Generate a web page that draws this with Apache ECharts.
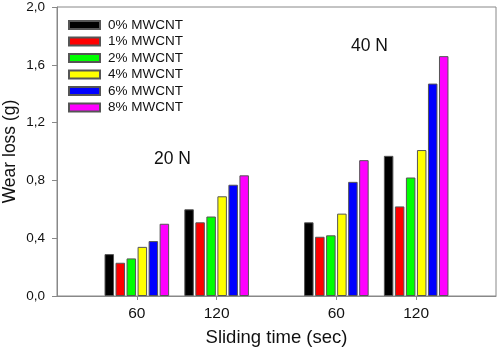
<!DOCTYPE html>
<html>
<head>
<meta charset="utf-8">
<script src="https://cdn.jsdelivr.net/npm/echarts@6/dist/echarts.min.js"></script>
<style>
  html, body { margin: 0; padding: 0; background: #fff; }
  #chart { width: 498px; height: 350px; }
</style>
</head>
<body>
<div id="chart"></div>
<script>
  // data
  const loads = ['20 N', '40 N']
  const times = ['60', '120']
  const seriesNames = ['0% MWCNT', '1% MWCNT', '2% MWCNT', '4% MWCNT', '6% MWCNT', '8% MWCNT']
  const colors = ['#000000', '#ff0000', '#00ff00', '#ffff00', '#0000ff', '#ff00ff']
  // one row per series: 20N-60, 20N-120, 40N-60, 40N-120
  const wear0 = [0.29, 0.60, 0.51, 0.97]
  const wear1 = [0.23, 0.51, 0.41, 0.62]
  const wear2 = [0.26, 0.55, 0.42, 0.82]
  const wear4 = [0.34, 0.69, 0.57, 1.01]
  const wear6 = [0.38, 0.77, 0.79, 1.47]
  const wear8 = [0.50, 0.835, 0.94, 1.66]
  const yTicks = [0, 0.4, 0.8, 1.2, 1.6, 2.0]

  const allWear = [wear0, wear1, wear2, wear4, wear6, wear8]

  // slot on the x scale: 2 slots between times, an extra gap between loads
  const slots = []
  const slotLabels = []
  loads.forEach((l, li) => {
    times.forEach((t, ti) => {
      slots.push(2 + li * 5 + ti * 2)
      slotLabels.push(t)
    })
  })

  const chart = echarts.init(document.getElementById('chart'))
  const font = 'Liberation Sans, Arial, sans-serif'

  const series = allWear.map((vals, i) => ({
    name: seriesNames[i],
    type: 'bar',
    barWidth: 9.5,
    barGap: '16%',
    itemStyle: { color: colors[i], borderColor: '#555', borderWidth: 1 },
    data: vals.map((v, k) => [slots[k], v])
  }))

  chart.setOption({
    animation: false,
    textStyle: { fontFamily: font },
    grid: {
      left: 57, right: 2, top: 7, bottom: 54,
      outerBoundsMode: 'none', containLabel: false,
      show: true, borderColor: '#888', borderWidth: 1
    },
    legend: {
      orient: 'vertical',
      left: 63, top: 13,
      itemWidth: 31, itemHeight: 8, itemGap: 2.5,
      icon: 'rect',
      data: seriesNames,
      textStyle: { fontSize: 13.5, color: '#111', fontFamily: font, padding: [0, 0, 0, 3] }
    },
    xAxis: {
      type: 'value', min: 0, max: 11,
      splitLine: { show: false },
      axisLine: { lineStyle: { color: '#888' } },
      axisTick: { show: true, length: 4, lineStyle: { color: '#888' }, customValues: slots },
      axisLabel: {
        customValues: slots, margin: 10, fontSize: 15.5, color: '#111',
        formatter: v => slotLabels[slots.indexOf(v)]
      },
      name: 'Sliding time (sec)', nameLocation: 'middle', nameGap: 32, nameMoveOverlap: false,
      nameTextStyle: { fontSize: 18.5, color: '#111' }
    },
    yAxis: {
      type: 'value', min: 0, max: 2, interval: 0.4,
      splitLine: { show: false },
      axisLine: { show: true, lineStyle: { color: '#888' } },
      axisTick: { show: true, length: 5, lineStyle: { color: '#888' } },
      axisLabel: {
        margin: 12, fontSize: 13.5, color: '#111',
        formatter: v => yTicks.includes(+v.toFixed(1)) ? v.toFixed(1).replace('.', ',') : ''
      },
      name: 'Wear loss (g)', nameLocation: 'middle', nameGap: 38, nameMoveOverlap: false,
      nameTextStyle: { fontSize: 17.5, color: '#111' }
    },
    graphic: [
      { type: 'text', left: 154, top: 150, style: { text: loads[0], fill: '#111', font: '17.5px ' + font } },
      { type: 'text', left: 351, top: 37, style: { text: loads[1], fill: '#111', font: '17.5px ' + font } }
    ],
    series
  })
</script>
</body>
</html>
